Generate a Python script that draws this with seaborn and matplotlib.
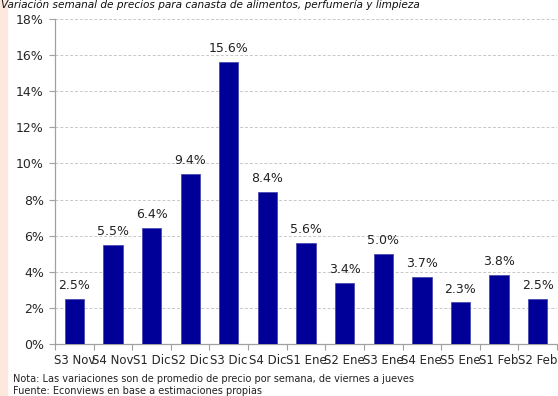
import matplotlib
matplotlib.use("Agg")
import matplotlib.pyplot as plt
import seaborn as sns
import pandas as pd
from matplotlib.patches import Rectangle
from matplotlib.ticker import FixedLocator

semanas = ["S3 Nov", "S4 Nov", "S1 Dic", "S2 Dic", "S3 Dic", "S4 Dic", "S1 Ene",
           "S2 Ene", "S3 Ene", "S4 Ene", "S5 Ene", "S1 Feb", "S2 Feb"]
variacion = [2.5, 5.5, 6.4, 9.4, 15.6, 8.4, 5.6, 3.4, 5.0, 3.7, 2.3, 3.8, 2.5]
y_ticks = [0, 2, 4, 6, 8, 10, 12, 14, 16, 18]

df = pd.DataFrame({"semana": semanas, "variacion": variacion})

sns.set_theme(style="white")
plt.rcParams["font.family"] = ["DejaVu Sans"]

fig = plt.figure(figsize=(5.58, 3.96), dpi=100)
fig.patches.append(Rectangle((0, 0), 7 / 558, 1, transform=fig.transFigure,
                             color="#fce8dc", zorder=0))
ax = fig.add_axes([55 / 558, 1 - 344 / 396, 502 / 558, 325 / 396])

sns.barplot(data=df, x="semana", y="variacion", color="#000099", saturation=1,
            width=0.5, edgecolor="#4a4ab0", linewidth=0.6, ax=ax, zorder=3)

ax.set_ylim(0, 18)
ax.set_xlim(-0.5, len(semanas) - 0.5)
ax.set_yticks(y_ticks)
ax.set_yticklabels([f"{t}%" for t in y_ticks], fontsize=9)
ax.set_xticklabels(semanas, fontsize=8.5)
ax.set_xlabel("")
ax.set_ylabel("")
ax.grid(axis="y", color="#c8c8c8", linestyle=(0, (3, 2)), linewidth=0.7, zorder=0)

for s in ["top", "right"]:
    ax.spines[s].set_visible(False)
ax.spines["left"].set_color("#a0a0a0")
ax.spines["bottom"].set_color("#a0a0a0")
ax.spines["left"].set_linewidth(0.9)
ax.spines["bottom"].set_linewidth(0.9)

ax.tick_params(axis="y", left=True, length=4, width=0.8, color="#a0a0a0", pad=4)
ax.tick_params(axis="x", bottom=False, length=0, pad=7)
ax.xaxis.set_minor_locator(FixedLocator([i - 0.5 for i in range(len(semanas) + 1)]))
ax.tick_params(axis="x", which="minor", bottom=True, length=4, width=0.8, color="#a0a0a0")

for i, v in enumerate(variacion):
    ax.annotate(f"{v:.1f}%", (i, v), xytext=(0, 5), textcoords="offset points",
                ha="center", va="bottom", fontsize=9, color="#222222")

fig.text(1 / 558, 1.0, "Variación semanal de precios para canasta de alimentos, perfumería y limpieza",
         fontsize=7.6, style="italic", ha="left", va="top", color="#111111")
fig.text(13 / 558, 1 - 379 / 396, "Nota: Las variaciones son de promedio de precio por semana, de viernes a jueves",
         fontsize=7.0, ha="left", va="center", color="#222222")
fig.text(13 / 558, 1 - 391 / 396, "Fuente: Econviews en base a estimaciones propias",
         fontsize=7.0, ha="left", va="center", color="#222222")

fig.savefig("out.png", dpi=100)
